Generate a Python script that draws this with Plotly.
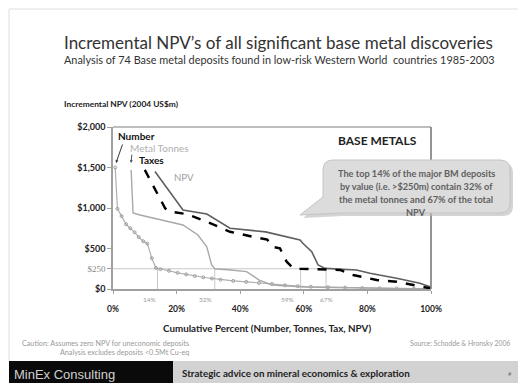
import plotly.graph_objects as go

# ---------------- data ----------------
number_pct = [0.7, 1.4, 2.7, 4.1, 5.4, 6.8, 8.1, 9.5, 10.8, 12.2, 13.5, 14.9, 17.6, 20.3, 23.0, 25.7,
              28.4, 31.1, 33.8, 37.8, 41.9, 45.9, 50.0, 54.1, 58.1, 62.2, 67.6, 73.0, 78.4, 83.8,
              89.2, 94.6, 100]
number_npv = [1500, 990, 900, 800, 750, 700, 640, 590, 560, 380, 260, 245, 225, 200, 180, 160,
              145, 130, 115, 100, 88, 75, 62, 45, 35, 28, 22, 17, 12, 9, 6, 3, 1]

tonnes_pct = [5.7, 6.3, 8.5, 17, 22, 26.7, 29.5, 31, 32, 37, 42, 46, 50, 55, 60, 70, 80, 90, 100]
tonnes_npv = [1470, 940, 914, 840, 790, 667, 520, 300, 250, 235, 215, 110, 50, 35, 25, 18, 12, 6, 1]

taxes_pct = [10, 16.4, 18, 23.2, 29.5, 36.8, 44, 48.5, 50.3, 52.5, 54.6, 56.7, 58.8, 67, 71.4,
             75.5, 82.9, 89.2, 94.3, 99.7]
taxes_npv = [1470, 996, 955, 925, 830, 707, 645, 610, 520, 502, 337, 255, 250, 245, 235,
             173, 111, 90, 50, 9]

npv_pct = [13.2, 22, 29.5, 36.8, 48, 52.5, 58.8, 59.7, 62.5, 64.5, 66.7, 76.6, 80.8, 89.2, 96.5, 99.7]
npv_npv = [1450, 975, 925, 750, 705, 665, 605, 565, 460, 296, 255, 235, 194, 132, 70, 28]

threshold = 250
ref_pcts = [14, 32, 59, 67]
ref_labels = ["14%", "32%", "59%", "67%"]

y_tickvals = [0, 250, 500, 1000, 1500, 2000]
y_ticktext = ["$0", "$250", "$500", "$1,000", "$1,500", "$2,000"]
x_tickvals = [0, 20, 40, 60, 80, 100]
x_ticktext = ["0%", "20%", "40%", "60%", "80%", "100%"]

# ---------------- layout geometry ----------------
W, H = 518, 383
L, R, T, B = 113, 431, 127, 289


def px(x):
    return (x - L) / (R - L)


def py(y):
    return (B - y) / (B - T)


FONT = "Lato"
fig = go.Figure()

fig.add_trace(go.Scatter(x=number_pct, y=number_npv, mode="lines+markers", name="Number",
                         line=dict(color="#b0b0b0", width=1.2),
                         marker=dict(symbol="circle-open", size=3, color="#a0a0a0", line=dict(width=1))))
fig.add_trace(go.Scatter(x=tonnes_pct, y=tonnes_npv, mode="lines", name="Metal Tonnes",
                         line=dict(color="#a8a8a8", width=1.4)))
fig.add_trace(go.Scatter(x=npv_pct, y=npv_npv, mode="lines", name="NPV",
                         line=dict(color="#5e5e5e", width=1.6)))
fig.add_trace(go.Scatter(x=taxes_pct, y=taxes_npv, mode="lines", name="Taxes",
                         line=dict(color="#000000", width=2.4, dash="dash")))

shapes = []
shapes.append(dict(type="line", xref="x", yref="y", x0=0, x1=max(ref_pcts), y0=threshold, y1=threshold,
                   line=dict(color="#c8c8c8", width=1), layer="below"))
for p in ref_pcts:
    shapes.append(dict(type="line", xref="x", yref="y", x0=p, x1=p, y0=0, y1=threshold,
                       line=dict(color="#c8c8c8", width=1), layer="below"))
shapes.append(dict(type="line", xref="paper", yref="paper", x0=0, x1=1, y0=1, y1=1,
                   line=dict(color="#a8a8a8", width=1.5)))
shapes.append(dict(type="line", xref="paper", yref="paper", x0=1, x1=1, y0=0, y1=1,
                   line=dict(color="#707070", width=1.5)))
shapes.append(dict(type="line", xref="paper", yref="paper", x0=px(9), x1=px(518), y0=py(9), y1=py(9),
                   line=dict(color="#dddddd", width=1)))
shapes.append(dict(type="line", xref="paper", yref="paper", x0=px(9), x1=px(9), y0=py(9), y1=py(361),
                   line=dict(color="#dddddd", width=1)))
shapes.append(dict(type="rect", xref="paper", yref="paper", x0=px(9), x1=px(173), y0=py(361), y1=py(384),
                   fillcolor="#0a0a0a", line=dict(width=0)))
shapes.append(dict(type="rect", xref="paper", yref="paper", x0=px(173), x1=px(519), y0=py(361), y1=py(384),
                   fillcolor="#d2d2d2", line=dict(width=0)))


def bubble(dx=0, dy=0):
    x0, x1, y0, y1, r = 323 + dx, 510 + dx, 160 + dy, 213 + dy, 10
    pts = [f"M {px(x0 + r)},{py(y0)}",
           f"L {px(x1 - r)},{py(y0)}",
           f"Q {px(x1)},{py(y0)} {px(x1)},{py(y0 + r)}",
           f"L {px(x1)},{py(y1 - r)}",
           f"Q {px(x1)},{py(y1)} {px(x1 - r)},{py(y1)}",
           f"L {px(340 + dx)},{py(y1)}",
           f"L {px(300 + dx)},{py(215 + dy)}",
           f"L {px(x0)},{py(197 + dy)}",
           f"L {px(x0)},{py(y0 + r)}",
           f"Q {px(x0)},{py(y0)} {px(x0 + r)},{py(y0)}",
           "Z"]
    return " ".join(pts)


shapes.append(dict(type="path", xref="paper", yref="paper", path=bubble(3, 3),
                   fillcolor="#b8b8b8", line=dict(width=0), opacity=0.6))
shapes.append(dict(type="path", xref="paper", yref="paper", path=bubble(),
                   fillcolor="#dcdcdc", line=dict(color="#c4c4c4", width=1)))

ann = []


def text(x, y, s, size, color="#000", bold=False, xanchor="left", family=FONT):
    if bold:
        s = f"<b>{s}</b>"
    ann.append(dict(x=px(x), y=py(y), xref="paper", yref="paper", text=s, showarrow=False,
                    xanchor=xanchor, yanchor="middle", font=dict(size=size, color=color, family=family)))


text(62, 43, "Incremental NPV’s of all significant base metal discoveries", 17, "#333")
text(62, 60, "Analysis of 74 Base metal deposits found in low-risk Western World  countries 1985-2003", 10.9, "#333")
text(62, 104, "Incremental NPV (2004 US$m)", 8.4, "#222", bold=True)
text(116, 136, "Number", 10, "#111", bold=True)
text(128, 148, "Metal Tonnes", 10, "#b0b0b0")
text(137, 160, "Taxes", 10, "#111", bold=True)
text(172, 177, "NPV", 9.6, "#a0a0a0")
text(377, 140, "BASE METALS", 12, "#222", bold=True, xanchor="center")
for i, line in enumerate(["The top 14% of the major BM deposits",
                          "by value (i.e. >$250m) contain 32% of",
                          "the metal tonnes and 67% of the total",
                          "NPV"]):
    text(416, 173 + 13 * i, line, 9.2, "#606060", bold=True, xanchor="center")

for p, lab, xs in zip(ref_pcts, ref_labels, [-8, -9, -13, 0]):
    ann.append(dict(x=p, y=0, xref="x", yref="paper", text=lab, showarrow=False, xshift=xs,
                    yshift=-10, xanchor="center", yanchor="middle",
                    font=dict(size=6.5, color="#999", family=FONT)))

text(267, 328, "Cumulative Percent (Number, Tonnes, Tax, NPV)", 9.8, "#222", bold=True, xanchor="center")
text(20, 343, "Caution: Assumes zero NPV for uneconomic deposits", 7.2, "#999")
text(58, 352, "Analysis excludes deposits <0.5Mt Cu-eq", 7.2, "#999")
text(512, 343, "Source: Schodde & Hronsky 2006", 6.8, "#999", xanchor="right")
text(12, 374, "MinEx Consulting", 13, "#d0d0d0", family="Liberation Sans")
text(180, 373, "Strategic advice on mineral economics & exploration", 9.8, "#222", bold=True)
text(514, 373, "#", 6, "#777", xanchor="right")

ann.append(dict(x=px(116), y=py(163), xref="paper", yref="paper", ax=7, ay=-20, text="",
                showarrow=True, arrowhead=2, arrowsize=0.6, arrowwidth=1, arrowcolor="#333"))
ann.append(dict(x=px(131), y=py(163), xref="paper", yref="paper", ax=1, ay=-10, text="",
                showarrow=True, arrowhead=2, arrowsize=0.6, arrowwidth=1, arrowcolor="#555"))

fig.update_layout(
    width=W, height=H, margin=dict(l=L, r=W - R, t=T, b=H - B),
    paper_bgcolor="white", plot_bgcolor="white", showlegend=False,
    shapes=shapes, annotations=ann,
    font=dict(family=FONT, color="#222"),
    xaxis=dict(range=[0, 100], tickvals=x_tickvals, ticktext=[f"<b>{t}</b>" for t in x_ticktext],
               showgrid=False, zeroline=False,
               showline=True, linecolor="#a0a0a0", linewidth=1.5, ticks="outside", ticklen=3,
               tickcolor="#a0a0a0", tickfont=dict(size=8.5, color="#222", family=FONT),
               ticklabelstandoff=8),
    yaxis=dict(range=[0, 2000], tickvals=y_tickvals,
               ticktext=["<span style='color:#888;font-family:Liberation Serif;font-weight:normal'>$250</span>"
                         if t == "$250" else f"<b>{t}</b>" for t in y_ticktext],
               showgrid=False, zeroline=False,
               showline=True, linecolor="#a0a0a0", linewidth=1.5, ticks="outside", ticklen=4,
               tickcolor="#a0a0a0", tickfont=dict(size=9, color="#222", family=FONT)),
)

fig.write_html("out.html", config={"displayModeBar": False},
               post_script="document.body.style.margin='0';document.body.style.overflow='hidden';")
